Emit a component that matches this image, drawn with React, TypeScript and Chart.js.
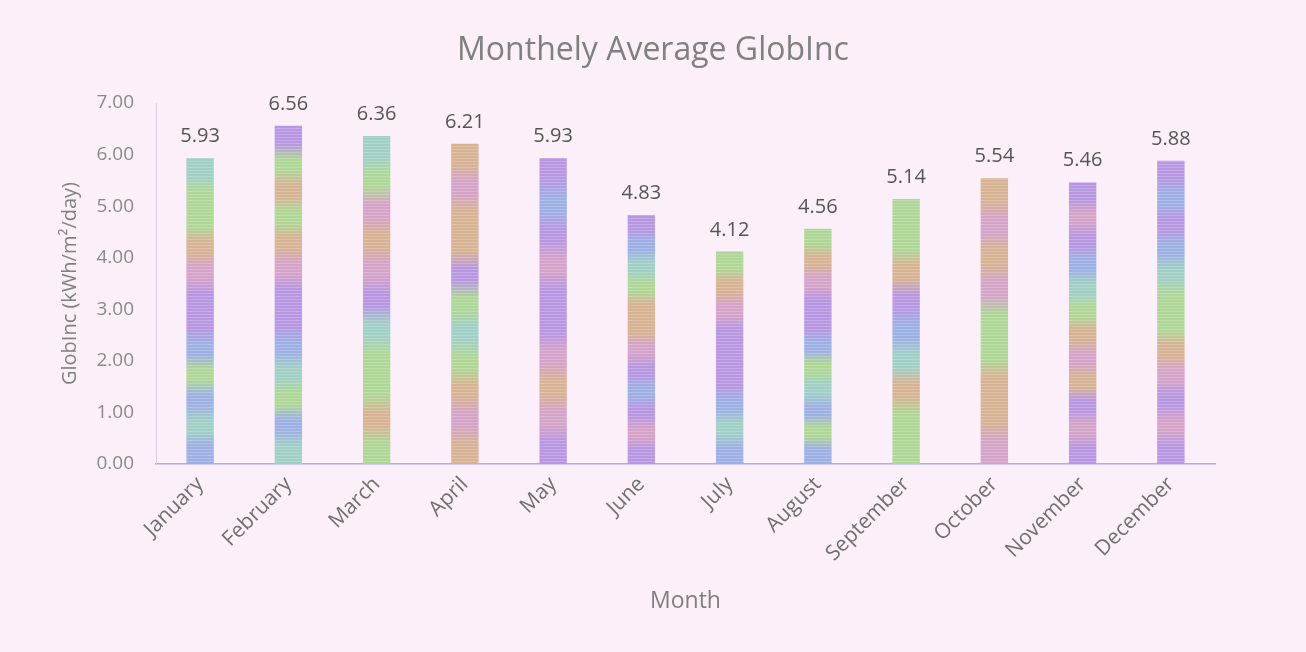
import React, { useEffect, useRef } from 'react';
import { Chart, registerables } from 'chart.js';
Chart.register(...registerables);

const months = ['January', 'February', 'March', 'April', 'May', 'June', 'July', 'August', 'September', 'October', 'November', 'December'];
const globInc = [5.93, 6.56, 6.36, 6.21, 5.93, 4.83, 4.12, 4.56, 5.14, 5.54, 5.46, 5.88];
const yMin = 0;
const yMax = 7;
const yStep = 1;
const chartTitle = 'Monthely Average GlobInc';
const xTitle = 'Month';
const yTitle = 'GlobInc (kWh/m²/day)';

const PALETTE: Record<string, string> = {
  pu: '#b797e2',
  bl: '#9cb0e4',
  gr: '#aed796',
  or: '#d7b293',
  pk: '#d5a2c8',
  te: '#a0cfc6',
};

// colour bands of each bar, bottom to top
const barBands: string[][] = [
  ['bl', 'te', 'bl', 'gr', 'bl', 'pu', 'pu', 'pk', 'or', 'gr', 'gr', 'te'],
  ['te', 'bl', 'gr', 'te', 'bl', 'pu', 'pu', 'pk', 'or', 'gr', 'or', 'gr', 'pu'],
  ['gr', 'or', 'gr', 'gr', 'te', 'pu', 'pk', 'or', 'pk', 'gr', 'te'],
  ['or', 'pk', 'or', 'gr', 'te', 'gr', 'pu', 'or', 'or', 'pk', 'or'],
  ['pu', 'pk', 'or', 'pk', 'pu', 'pu', 'pk', 'pu', 'bl', 'pu'],
  ['pu', 'pk', 'pu', 'bl', 'pu', 'pk', 'or', 'or', 'gr', 'te', 'bl', 'pu'],
  ['bl', 'te', 'bl', 'pu', 'pu', 'pu', 'pk', 'or', 'gr'],
  ['bl', 'gr', 'bl', 'te', 'gr', 'bl', 'pu', 'pu', 'pk', 'or', 'gr'],
  ['gr', 'gr', 'or', 'te', 'bl', 'pu', 'or', 'gr', 'gr'],
  ['pk', 'or', 'or', 'gr', 'gr', 'pk', 'or', 'pk', 'or'],
  ['pu', 'pk', 'pu', 'or', 'pk', 'or', 'gr', 'te', 'bl', 'pu', 'pk', 'pu'],
  ['pu', 'pk', 'pu', 'pk', 'or', 'gr', 'gr', 'te', 'bl', 'pu', 'bl', 'pu'],
];

const FONT = '"Open Sans", Lato, sans-serif';
const BG = '#fbeffa';

function makeGradient(ctx: CanvasRenderingContext2D, yBottom: number, yTop: number, bands: string[]) {
  const g = ctx.createLinearGradient(0, yBottom, 0, yTop);
  const n = bands.length;
  bands.forEach((b, i) => {
    const c = PALETTE[b] || PALETTE.pu;
    g.addColorStop(Math.min(1, (i + 0.3) / n), c);
    g.addColorStop(Math.min(1, (i + 0.7) / n), c);
  });
  return g;
}

const stripePlugin = {
  id: 'stripes',
  afterDatasetsDraw(chart: any) {
    const ctx = chart.ctx;
    const meta = chart.getDatasetMeta(0);
    ctx.save();
    meta.data.forEach((bar: any) => {
      const { x, y, base, width } = bar.getProps(['x', 'y', 'base', 'width'], true);
      ctx.save();
      ctx.beginPath();
      ctx.rect(x - width / 2, y, width, base - y);
      ctx.clip();
      ctx.strokeStyle = 'rgba(255,255,255,0.2)';
      ctx.lineWidth = 1;
      for (let yy = base; yy > y; yy -= 3) {
        ctx.beginPath();
        ctx.moveTo(x - width / 2, yy + 0.5);
        ctx.lineTo(x + width / 2, yy + 0.5);
        ctx.stroke();
      }
      ctx.restore();
    });
    ctx.restore();
  },
};

const labelPlugin = {
  id: 'valueLabels',
  afterDatasetsDraw(chart: any) {
    const ctx = chart.ctx;
    const meta = chart.getDatasetMeta(0);
    ctx.save();
    ctx.font = `20px ${FONT}`;
    ctx.fillStyle = '#555555';
    ctx.textAlign = 'center';
    ctx.textBaseline = 'alphabetic';
    meta.data.forEach((bar: any, i: number) => {
      ctx.fillText(globInc[i].toFixed(2), bar.x, bar.y - 16);
    });
    ctx.restore();
  },
};

const bgTitlePlugin = {
  id: 'bgTitle',
  beforeDraw(chart: any) {
    const ctx = chart.ctx;
    ctx.save();
    ctx.fillStyle = BG;
    ctx.fillRect(0, 0, chart.width, chart.height);
    ctx.restore();
  },
  afterDraw(chart: any) {
    const ctx = chart.ctx;
    ctx.save();
    ctx.font = `32px ${FONT}`;
    ctx.fillStyle = '#808080';
    ctx.textAlign = 'center';
    ctx.textBaseline = 'alphabetic';
    ctx.fillText(chartTitle, chart.width / 2, 60);
    ctx.restore();
  },
};

export default function App() {
  const ref = useRef<HTMLCanvasElement | null>(null);
  useEffect(() => {
    document.body.style.margin = '0';
    const canvas = ref.current;
    if (!canvas) return;
    const chart = new Chart(canvas, {
      type: 'bar',
      data: {
        labels: months,
        datasets: [
          {
            label: 'GlobInc',
            data: globInc,
            backgroundColor: (c: any) => {
              const ch = c.chart;
              if (!ch.chartArea || !ch.scales.y) return PALETTE.pu;
              const ys = ch.scales.y;
              return makeGradient(ch.ctx, ys.getPixelForValue(0), ys.getPixelForValue(c.raw), barBands[c.dataIndex] || ['pu']);
            },
            borderWidth: 0,
            barPercentage: 0.31,
            categoryPercentage: 1,
          },
        ],
      },
      options: {
        responsive: false,
        animation: false,
        layout: { padding: { top: 103, right: 91, left: 0, bottom: 0 } },
        plugins: {
          legend: { display: false },
          tooltip: { enabled: false },
          title: { display: false },
        },
        scales: {
          x: {
            grid: { display: false, drawTicks: false },
            border: { display: true, color: '#a9b3df', width: 1.5 },
            ticks: {
              color: '#707070',
              font: { family: FONT, size: 21 },
              maxRotation: 45,
              minRotation: 45,
              padding: 8,
            },
            title: {
              display: true,
              text: xTitle,
              color: '#808080',
              font: { family: FONT, size: 23 },
              padding: { top: 4, bottom: 37 },
            },
            afterFit: (s: any) => {
              s.height = 188;
            },
          },
          y: {
            min: yMin,
            max: yMax,
            grid: { display: false, drawTicks: false },
            border: { display: true, color: '#d9cde0', width: 1 },
            ticks: {
              stepSize: yStep,
              color: '#8a8a8a',
              font: { family: FONT, size: 19 },
              padding: 22,
              callback: (v: any) => Number(v).toFixed(2),
            },
            title: {
              display: true,
              text: yTitle,
              color: '#808080',
              font: { family: FONT, size: 20 },
              padding: { top: 58, bottom: 0 },
            },
            afterFit: (s: any) => {
              s.width = 156;
            },
          },
        },
      },
      plugins: [bgTitlePlugin, stripePlugin, labelPlugin],
    });
    return () => chart.destroy();
  }, []);
  return (
    <div style={{ width: 1306, height: 652, background: BG }}>
      <canvas ref={ref} width={1306} height={652} style={{ display: 'block' }} />
    </div>
  );
}
